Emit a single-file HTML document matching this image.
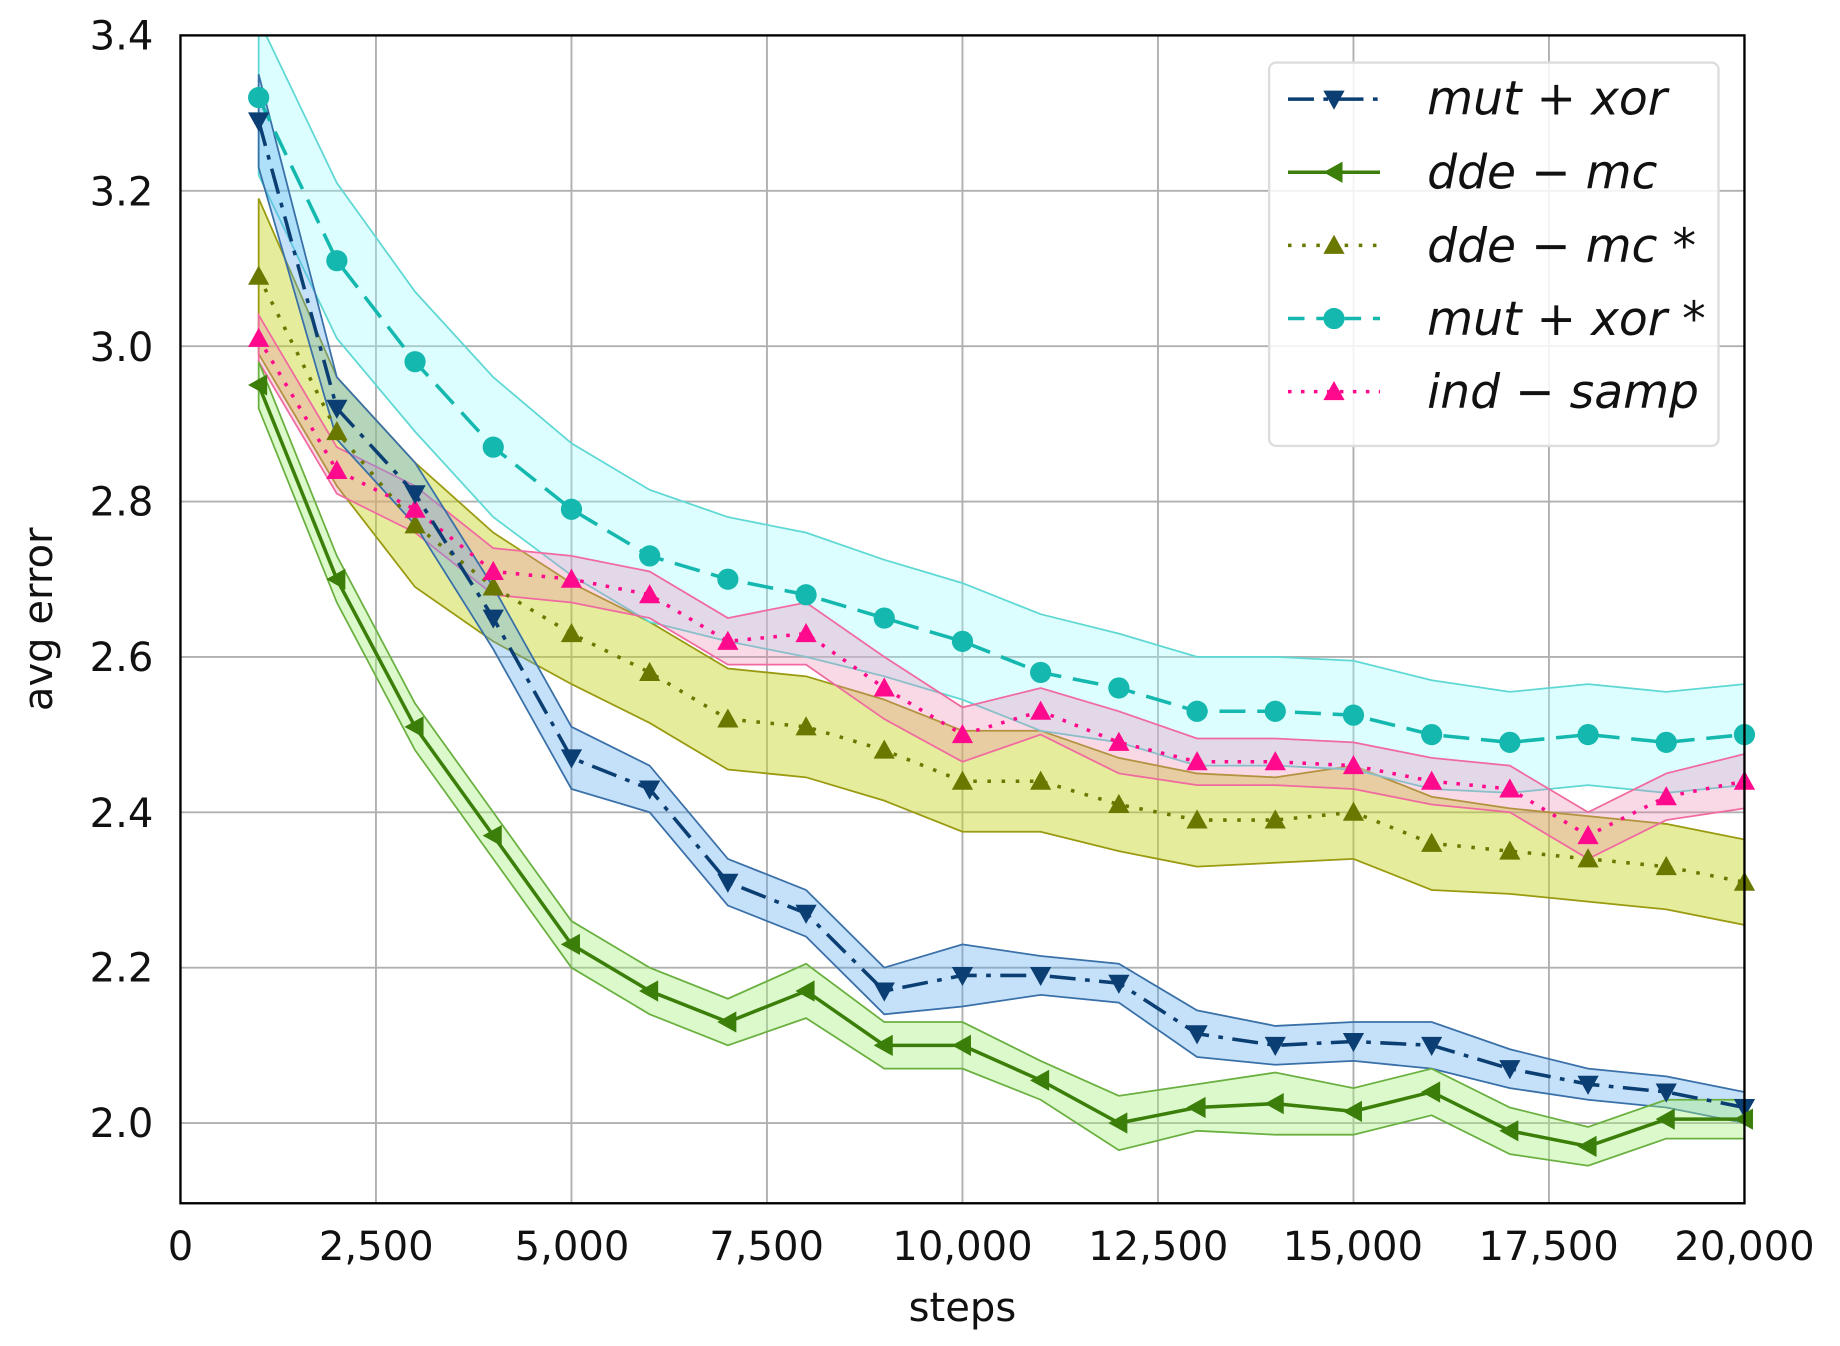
<!DOCTYPE html>
<html><head><meta charset="utf-8"><style>
html,body{margin:0;padding:0;background:#fff;}
svg{display:block;}
text{font-family:"DejaVu Sans","Liberation Sans",sans-serif;fill:#111;}
</style></head><body>
<svg id="s" width="1840" height="1346" viewBox="0 0 1560 1141" preserveAspectRatio="none" xmlns="http://www.w3.org/2000/svg">
<rect width="1560" height="1141" fill="#fff"/>
<g id="grid" stroke="#b0b0b0" stroke-width="1.6"></g>
<g id="bands"></g>
<g id="lines"></g>
<rect x="153" y="30" width="1326" height="990" fill="none" stroke="#000" stroke-width="2"/>
<g font-size="34" text-anchor="end">
<text x="130" y="42">3.4</text><text x="130" y="174">3.2</text><text x="130" y="306">3.0</text>
<text x="130" y="437">2.8</text><text x="130" y="569">2.6</text><text x="130" y="701">2.4</text>
<text x="130" y="832">2.2</text><text x="130" y="964">2.0</text>
</g>
<g font-size="34" text-anchor="middle">
<text x="153" y="1068">0</text><text x="319" y="1068">2,500</text><text x="485" y="1068">5,000</text>
<text x="650" y="1068">7,500</text><text x="816" y="1068">10,000</text><text x="982" y="1068">12,500</text>
<text x="1147" y="1068">15,000</text><text x="1313" y="1068">17,500</text><text x="1479" y="1068">20,000</text>
<text x="816" y="1120">steps</text>
<text transform="translate(44,525) rotate(-90)">avg error</text>
</g>
<rect x="1076" y="53" width="381" height="325" rx="6" fill="#fff" fill-opacity="0.85" stroke="#ddd" stroke-width="2"/>
<g font-size="40" font-style="italic">
<text x="1210" y="97">mut + xor</text>
<text x="1210" y="160">dde − mc</text>
<text x="1210" y="222">dde − mc *</text>
<text x="1210" y="284">mut + xor *</text>
<text x="1210" y="346">ind − samp</text>
</g>
<g id="leg"></g>
</svg>
<script>
const NS="http://www.w3.org/2000/svg";
const X=v=>153+v*1326/20000, Y=v=>952-(v-2)*922/1.4;
function el(p,t,a){const e=document.createElementNS(NS,t);for(const k in a)e.setAttribute(k,a[k]);document.getElementById(p).appendChild(e);return e;}
for(let i=1;i<8;i++){const x=X(i*2500);el('grid','line',{x1:x,x2:x,y1:30,y2:1020});}
for(let i=0;i<7;i++){const y=Y(2+i*0.2);el('grid','line',{x1:153,x2:1479,y1:y,y2:y});}
const xs=[];for(let i=1;i<=20;i++)xs.push(i*1000);
const S=[
{d:[3.09,2.89,2.77,2.69,2.63,2.58,2.52,2.51,2.48,2.44,2.44,2.41,2.39,2.39,2.40,2.36,2.35,2.34,2.33,2.31],w:[0.1,0.07,0.08,0.07,0.065,0.065,0.065,0.065,0.065,0.065,0.065,0.06,0.06,0.055,0.06,0.06,0.055,0.055,0.055,0.055],c:'#6b7800',f:'#c6d826',fo:.45,dash:'3,9',m:'up',bs:'#9a9a10'},
{d:[3.32,3.11,2.98,2.87,2.79,2.73,2.70,2.68,2.65,2.62,2.58,2.56,2.53,2.53,2.525,2.50,2.49,2.50,2.49,2.50],w:[0.1,0.1,0.09,0.09,0.085,0.085,0.08,0.08,0.075,0.075,0.075,0.07,0.07,0.07,0.07,0.07,0.065,0.065,0.065,0.065],c:'#14b8ae',f:'#9ffcff',fo:.35,dash:'22,10',m:'circle',bs:'#5fd8d4'},
{d:[3.01,2.84,2.79,2.71,2.70,2.68,2.62,2.63,2.56,2.50,2.53,2.49,2.465,2.465,2.46,2.44,2.43,2.37,2.42,2.44],w:[0.03,0.03,0.03,0.03,0.03,0.03,0.03,0.04,0.04,0.035,0.03,0.04,0.03,0.03,0.03,0.03,0.03,0.03,0.03,0.035],c:'#ff0a8c',f:'#f080b0',fo:.3,dash:'3,8',m:'up',bs:'#f06aa0'},
{d:[3.29,2.92,2.81,2.65,2.47,2.43,2.31,2.27,2.17,2.19,2.19,2.18,2.115,2.10,2.105,2.10,2.07,2.05,2.04,2.02],w:[0.06,0.04,0.04,0.04,0.04,0.03,0.03,0.03,0.03,0.04,0.025,0.025,0.03,0.025,0.025,0.03,0.025,0.02,0.02,0.02],c:'#0b3e72',f:'#5aa8ee',fo:.35,dash:'22,8,4,8',m:'down',bs:'#3a70a8'},
{d:[2.95,2.70,2.51,2.37,2.23,2.17,2.13,2.17,2.10,2.10,2.055,2.00,2.02,2.025,2.015,2.04,1.99,1.97,2.005,2.005],w:[0.03,0.03,0.03,0.03,0.03,0.03,0.03,0.035,0.03,0.03,0.025,0.035,0.03,0.04,0.03,0.03,0.03,0.025,0.025,0.025],c:'#3b7f0a',f:'#a8f07c',fo:.4,dash:'',m:'left',bs:'#6ab040'}
];
function mk(g,t,x,y,c,r){
 if(t==='circle')return el(g,'circle',{cx:x,cy:y,r:r,fill:c});
 let p;
 if(t==='up')p=[[x,y-r],[x+r,y+r*0.8],[x-r,y+r*0.8]];
 else if(t==='down')p=[[x,y+r],[x+r,y-r*0.8],[x-r,y-r*0.8]];
 else p=[[x-r,y],[x+r*0.8,y-r],[x+r*0.8,y+r]];
 el(g,'polygon',{points:p.map(q=>q.join(',')).join(' '),fill:c});
}
const clip=el('bands','clipPath',{id:'cp'});el('cp','rect',{x:153,y:30,width:1326,height:990});
S.forEach(s=>{
 const up=xs.map((x,i)=>X(x)+','+Y(s.d[i]+s.w[i])),lo=xs.map((x,i)=>X(x)+','+Y(s.d[i]-s.w[i])).reverse();
 el('bands','polygon',{points:up.concat(lo).join(' '),fill:s.f,'fill-opacity':s.fo,stroke:s.bs,'stroke-width':1.5,'clip-path':'url(#cp)'});
});
S.forEach(s=>{
 const pts=xs.map((x,i)=>X(x)+','+Y(s.d[i])).join(' ');
 const a={points:pts,fill:'none',stroke:s.c,'stroke-width':3};if(s.dash)a['stroke-dasharray']=s.dash;
 el('lines','polyline',a);
 xs.forEach((x,i)=>mk('lines',s.m,X(x),Y(s.d[i]),s.c,s.m==='circle'?9:9));
});
const L=[[3,'#0b3e72','22,8,4,8','down',84],[4,'#3b7f0a','','left',146],[0,'#6b7800','3,9','up',208],[1,'#14b8ae','14,10','circle',270],[2,'#ff0a8c','3,8','up',332]];
L.forEach(l=>{const a={x1:1092,x2:1170,y1:l[4],y2:l[4],stroke:l[1],'stroke-width':3};if(l[2])a['stroke-dasharray']=l[2];el('leg','line',a);mk('leg',l[3],1131,l[4],l[1],9);});
</script>
</body></html>
